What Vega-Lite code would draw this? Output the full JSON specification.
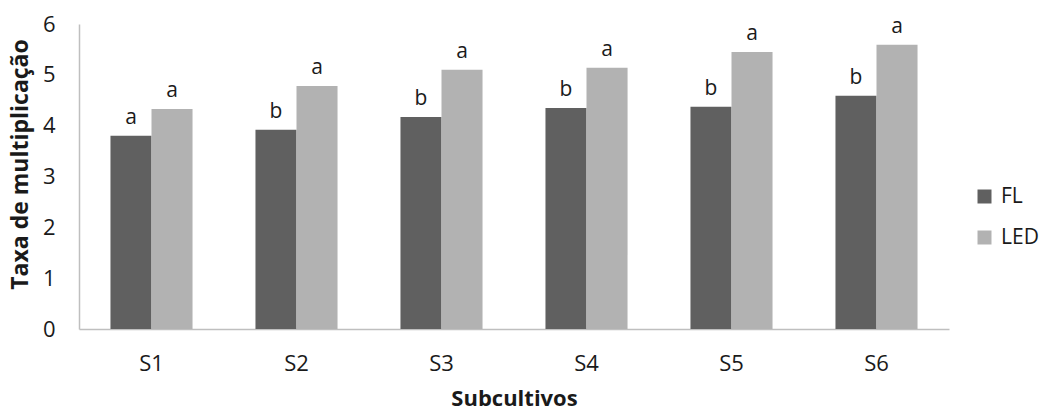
{
  "$schema": "https://vega.github.io/schema/vega-lite/v6.json",
  "width": 870,
  "height": 305,
  "autosize": {"type": "none"},
  "padding": {"left": 79, "top": 24, "right": 91, "bottom": 81},
  "background": "white",
  "config": {
    "view": {"stroke": null},
    "font": "Open Sans",
    "axis": {"grid": false, "ticks": false, "domainColor": "#bfbfbf", "domainWidth": 1.5, "labelColor": "#1a1a1a", "titleColor": "#1a1a1a", "labelFont": "Open Sans", "titleFont": "Open Sans"}
  },
  "data": {
    "values": [
      {"sub": "S1", "grupo": "FL", "valor": 3.80, "letra": "a"},
      {"sub": "S1", "grupo": "LED", "valor": 4.33, "letra": "a"},
      {"sub": "S2", "grupo": "FL", "valor": 3.92, "letra": "b"},
      {"sub": "S2", "grupo": "LED", "valor": 4.78, "letra": "a"},
      {"sub": "S3", "grupo": "FL", "valor": 4.17, "letra": "b"},
      {"sub": "S3", "grupo": "LED", "valor": 5.10, "letra": "a"},
      {"sub": "S4", "grupo": "FL", "valor": 4.35, "letra": "b"},
      {"sub": "S4", "grupo": "LED", "valor": 5.14, "letra": "a"},
      {"sub": "S5", "grupo": "FL", "valor": 4.37, "letra": "b"},
      {"sub": "S5", "grupo": "LED", "valor": 5.45, "letra": "a"},
      {"sub": "S6", "grupo": "FL", "valor": 4.59, "letra": "b"},
      {"sub": "S6", "grupo": "LED", "valor": 5.59, "letra": "a"}
    ]
  },
  "encoding": {
    "x": {
      "field": "sub", "type": "nominal",
      "scale": {"paddingInner": 0.434, "paddingOuter": 0.217},
      "axis": {"title": "Subcultivos", "labelAngle": 0, "labelFontSize": 22, "labelPadding": 24, "titleFontSize": 22, "titleFontWeight": "bold", "titlePadding": 14}
    },
    "xOffset": {"field": "grupo", "type": "nominal", "scale": {"paddingInner": 0, "paddingOuter": 0}},
    "y": {
      "field": "valor", "type": "quantitative",
      "scale": {"domain": [0, 6], "nice": false},
      "axis": {"title": "Taxa de multiplicação", "values": [0, 1, 2, 3, 4, 5, 6], "labelFontSize": 22, "labelPadding": 24, "titleFontSize": 23, "titleFontWeight": "bold", "titlePadding": 10, "titleY": 140}
    }
  },
  "layer": [
    {
      "mark": {"type": "bar"},
      "encoding": {
        "color": {
          "field": "grupo", "type": "nominal",
          "scale": {"domain": ["FL", "LED"], "range": ["#606060", "#b2b2b2"]},
          "legend": {"title": null, "orient": "none", "legendX": 895, "legendY": 162, "symbolType": "square", "symbolSize": 196, "symbolStrokeWidth": 0, "labelFontSize": 21, "labelColor": "#1a1a1a", "rowPadding": 19, "labelOffset": 6}
        }
      }
    },
    {
      "mark": {"type": "text", "fontSize": 21, "dy": -12, "baseline": "alphabetic", "color": "#1a1a1a"},
      "encoding": {"text": {"field": "letra"}}
    }
  ]
}
